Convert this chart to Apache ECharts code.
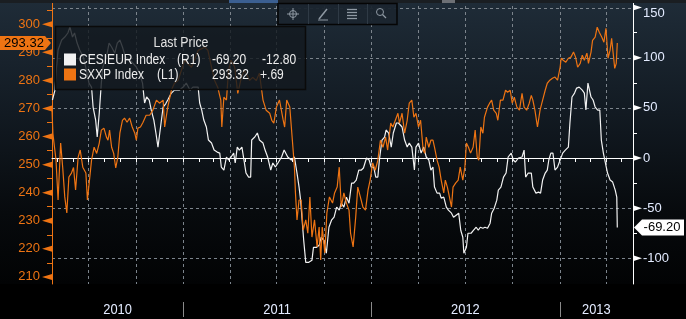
<!DOCTYPE html>
<html><head><meta charset="utf-8">
<script src="https://cdn.jsdelivr.net/npm/echarts@6/dist/echarts.min.js"></script>
<style>html,body{margin:0;padding:0;background:#000;overflow:hidden}#c{width:686px;height:319px}</style>
</head><body><div id="c"></div>
<script>
// ---------- data ----------
const sxxpDates = ['2010-04-21','2010-04-23','2010-04-29','2010-05-03','2010-05-08','2010-05-12','2010-05-16','2010-05-20','2010-05-24','2010-05-29','2010-06-02','2010-06-06','2010-06-11','2010-06-15','2010-06-20','2010-06-26','2010-06-29','2010-07-02','2010-07-07','2010-07-12','2010-07-17','2010-07-22','2010-07-26','2010-07-31','2010-08-05','2010-08-08','2010-08-11','2010-08-15','2010-08-19','2010-08-23','2010-08-27','2010-08-31','2010-09-05','2010-09-09','2010-09-14','2010-09-19','2010-09-24','2010-09-29','2010-10-02','2010-10-05','2010-10-10','2010-10-15','2010-10-21','2010-10-28','2010-11-03','2010-11-10','2010-11-16','2010-11-23','2010-11-26','2010-12-02','2010-12-09','2010-12-15','2010-12-22',
'2011-01-04','2011-01-17','2011-01-30','2011-02-12','2011-02-18','2011-02-25','2011-03-03','2011-03-09','2011-03-15','2011-03-17','2011-03-21','2011-03-26','2011-03-30','2011-04-04','2011-04-11','2011-04-17','2011-04-24','2011-04-30','2011-05-10','2011-05-16','2011-05-23','2011-05-29','2011-06-05','2011-06-11','2011-06-18','2011-06-22','2011-06-26','2011-07-01','2011-07-07','2011-07-14','2011-07-17','2011-07-21','2011-07-27','2011-08-01','2011-08-05','2011-08-07','2011-08-10','2011-08-14','2011-08-18','2011-08-22','2011-08-27','2011-08-31','2011-09-04','2011-09-08','2011-09-13','2011-09-18','2011-09-22','2011-09-25','2011-09-28','2011-10-03','2011-10-07','2011-10-12','2011-10-18','2011-10-22','2011-10-27','2011-10-31','2011-11-04','2011-11-09','2011-11-14','2011-11-19','2011-11-22','2011-11-27','2011-12-02','2011-12-06','2011-12-11','2011-12-16','2011-12-21','2011-12-26','2011-12-30',
'2012-01-04','2012-01-09','2012-01-14','2012-01-19','2012-01-24','2012-01-29','2012-02-02','2012-02-08','2012-02-12','2012-02-17','2012-02-22','2012-02-25','2012-03-01','2012-03-06','2012-03-11','2012-03-15','2012-03-20','2012-03-24','2012-03-28','2012-04-02','2012-04-06','2012-04-11','2012-04-14','2012-04-17','2012-04-22','2012-04-26','2012-04-30','2012-05-03','2012-05-08','2012-05-12','2012-05-16','2012-05-21','2012-05-24','2012-05-28','2012-06-01','2012-06-05','2012-06-08','2012-06-13','2012-06-18','2012-06-22','2012-06-27','2012-07-01','2012-07-04','2012-07-08','2012-07-12','2012-07-17','2012-07-21','2012-07-25','2012-07-28','2012-08-01','2012-08-05','2012-08-08','2012-08-14','2012-08-18','2012-08-22','2012-08-26','2012-08-31','2012-09-03','2012-09-08','2012-09-13','2012-09-18','2012-09-22','2012-09-27','2012-10-01','2012-10-05','2012-10-10','2012-10-15','2012-10-20','2012-10-24','2012-10-29','2012-11-03','2012-11-07','2012-11-10','2012-11-14','2012-11-19','2012-11-24','2012-11-29','2012-12-04','2012-12-08','2012-12-13','2012-12-18','2012-12-23','2012-12-28',
'2013-01-02','2013-01-04','2013-01-08','2013-01-13','2013-01-18','2013-01-23','2013-01-28','2013-02-01','2013-02-05','2013-02-10','2013-02-14','2013-02-18','2013-02-23','2013-02-26','2013-03-03','2013-03-06','2013-03-11','2013-03-15','2013-03-19','2013-03-24','2013-03-28','2013-04-01','2013-04-05','2013-04-09','2013-04-12','2013-04-15','2013-04-18','2013-04-21','2013-04-23'];
const sxxpValues = [270.5,261.0,251.6,237.4,257.7,249.0,238.5,232.8,245.6,247.0,249.0,241.0,252.7,255.2,249.1,247.0,237.4,236.7,251.6,256.2,254.0,257.7,262.3,263.0,259.8,258.7,262.3,256.2,254.0,248.8,252.7,261.2,265.8,266.6,265.1,266.6,263.4,261.2,258.7,263.0,263.4,265.1,267.6,267.6,269.4,273.0,271.9,273.0,263.4,270.5,276.5,279.0,280.0,
287.2,284.7,290.7,291.8,290.7,284.7,280.0,277.6,273.0,263.4,274.0,273.0,283.6,287.2,284.7,275.4,281.1,283.6,280.0,281.1,280.0,282.6,273.0,269.4,268.3,265.8,264.8,270.5,273.0,266.0,263.4,273.0,270.5,258.7,249.1,239.9,230.3,237.4,237.4,226.7,230.3,225.6,238.5,224.2,230.3,220.7,227.8,216.0,227.8,218.5,232.8,238.5,236.3,239.9,242.0,249.1,234.9,239.9,236.3,233.8,225.6,220.7,231.3,242.0,238.5,234.9,233.8,241.0,244.5,
250.6,248.0,251.6,258.7,256.2,259.8,255.2,264.8,263.4,265.8,268.3,264.8,268.3,261.2,265.8,271.9,273.0,266.9,268.3,263.4,265.8,255.2,254.1,259.8,256.2,258.7,258.7,256.2,251.6,249.1,244.5,239.9,244.5,242.0,238.5,234.9,242.0,243.4,244.5,249.1,244.5,249.1,257.7,256.2,254.1,256.2,262.3,252.7,251.6,263.4,261.2,266.9,270.5,271.9,273.0,269.4,268.3,265.8,273.0,273.0,276.5,275.8,276.5,271.9,274.0,270.5,269.4,275.4,270.5,269.4,271.9,274.7,273.0,269.4,263.4,269.4,273.0,276.5,279.0,280.1,280.8,281.2,280.1,
284.7,287.9,287.2,286.5,287.9,288.3,290.1,288.3,284.7,286.1,289.0,287.2,289.7,286.1,290.1,294.3,295.4,299.0,297.2,295.4,293.6,298.6,287.9,290.8,295.0,289.7,284.3,286.1,293.32];

const cesiDates = ['2010-04-22','2010-04-27','2010-04-30','2010-05-03','2010-05-10','2010-05-16','2010-05-22','2010-05-26','2010-05-31','2010-06-04','2010-06-09','2010-06-14','2010-06-21','2010-06-27','2010-07-02','2010-07-07','2010-07-10','2010-07-15','2010-07-18','2010-07-22','2010-07-26','2010-07-29','2010-08-05','2010-08-10','2010-08-15','2010-08-21','2010-08-26','2010-08-31','2010-09-05','2010-09-11','2010-09-19','2010-09-25','2010-10-02','2010-10-08','2010-10-14','2010-10-18','2010-10-22','2010-10-27','2010-10-31','2010-11-05','2010-11-09','2010-11-13','2010-11-18','2010-11-23','2010-11-28','2010-12-02','2010-12-09','2010-12-15','2010-12-25',
'2011-01-01','2011-01-07','2011-01-14','2011-01-20','2011-01-30','2011-02-02','2011-02-06','2011-02-10','2011-02-15','2011-02-19','2011-02-25','2011-03-02','2011-03-08','2011-03-13','2011-03-16','2011-03-21','2011-03-26','2011-03-30','2011-04-04','2011-04-09','2011-04-12','2011-04-16','2011-04-20','2011-04-25','2011-04-29','2011-05-03','2011-05-08','2011-05-12','2011-05-14','2011-05-20','2011-05-25','2011-05-29','2011-06-05','2011-06-09','2011-06-14','2011-06-20','2011-06-24','2011-06-29','2011-07-04','2011-07-11','2011-07-16','2011-07-19','2011-07-23','2011-07-30','2011-08-05','2011-08-10','2011-08-14','2011-08-17','2011-08-20','2011-08-23','2011-08-27','2011-09-02','2011-09-08','2011-09-11','2011-09-17','2011-09-22','2011-09-26','2011-10-01','2011-10-06','2011-10-11','2011-10-16','2011-10-21','2011-10-26','2011-10-31','2011-11-04','2011-11-09','2011-11-14','2011-11-19','2011-11-24','2011-11-28','2011-12-03','2011-12-08','2011-12-13','2011-12-17','2011-12-23','2011-12-28',
'2012-01-01','2012-01-06','2012-01-10','2012-01-14','2012-01-17','2012-01-22','2012-01-27','2012-01-30','2012-02-04','2012-02-09','2012-02-13','2012-02-19','2012-02-23','2012-03-01','2012-03-06','2012-03-11','2012-03-15','2012-03-20','2012-03-25','2012-03-28','2012-04-02','2012-04-07','2012-04-12','2012-04-17','2012-04-22','2012-04-26','2012-04-30','2012-05-03','2012-05-08','2012-05-13','2012-05-16','2012-05-21','2012-05-26','2012-05-30','2012-06-05','2012-06-09','2012-06-14','2012-06-19','2012-06-23','2012-06-27','2012-06-29','2012-07-04','2012-07-07','2012-07-13','2012-07-18','2012-07-23','2012-07-27','2012-07-31','2012-08-05','2012-08-09','2012-08-14','2012-08-19','2012-08-22','2012-08-27','2012-09-01','2012-09-04','2012-09-09','2012-09-14','2012-09-19','2012-09-23','2012-09-29','2012-10-03','2012-10-07','2012-10-13','2012-10-20','2012-10-24','2012-10-27','2012-11-01','2012-11-07','2012-11-10','2012-11-16','2012-11-21','2012-11-25','2012-11-29','2012-12-04','2012-12-08','2012-12-11','2012-12-15','2012-12-19','2012-12-23','2012-12-28',
'2013-01-02','2013-01-07','2013-01-12','2013-01-18','2013-01-21','2013-01-25','2013-01-30','2013-02-03','2013-02-08','2013-02-14','2013-02-18','2013-02-21','2013-02-25','2013-02-28','2013-03-03','2013-03-07','2013-03-11','2013-03-16','2013-03-20','2013-03-23','2013-03-27','2013-03-31','2013-04-04','2013-04-09','2013-04-14','2013-04-19','2013-04-22','2013-04-23'];
const cesiValues = [57.8,67.7,90.7,107.6,117.6,120.6,124.6,130.6,120.6,124.6,114.6,107.6,100.6,87.7,74.7,70.7,50.8,37.8,20.9,44.8,74.7,90.7,100.6,114.6,110.6,104.6,114.6,117.6,110.6,100.6,97.7,94.7,90.7,84.7,74.7,54.8,60.8,57.8,47.8,37.8,24.9,10.9,30.9,50.8,54.0,57.8,64.7,67.7,67.7,
70.7,74.7,67.7,70.7,70.7,54.8,47.8,37.8,30.9,17.9,14.9,7.9,5.9,4.9,-9,-12,1,-2,1,4.9,-5,10.9,7.9,10.9,-2,-15,-19,-19,17.9,20.9,24.9,17.9,14.9,7.9,1,-12,-5,-9,-5,1,7.9,7.9,1,-2,1,-15,-29,-42,-62,-82,-104,-104,-102,-89,-89,-87,-79,-82,-95,-69,-62,-59,-49,-52,-45,-49,-39,-45,-25,-25,-22,-12,-12,-10,0,-2,
-9,-9,-19,-19,-2,17.9,20.9,27.9,24.9,10.9,24.9,34.9,34.9,30.9,17.9,10.9,14.9,10.9,-12,10.9,14.9,4.9,10.9,1,-2,-12,-9,-29,-35,-35,-40,-39,-49,-52,-55,-59,-57,-55,-72,-79,-95,-89,-75,-75,-72,-69,-72,-69,-70,-69,-70,-65,-55,-50,-42,-32,-29,-19,-15,1,4.9,-2,-4,0,1,7.9,-19,-15,-15,-29,-35,-34,-35,-22,-15,-12,-2,4.9,4.9,-12,-9,
-2,4.9,7.9,10.9,34.9,60.8,64.7,69.7,70.7,67.7,64.7,47.8,74.7,75.7,60.8,57.8,50.8,47.8,47.8,17.9,4.9,-5,-15,-22,-24,-32,-39,-69.2];

const leftTicks = [210,220,230,240,250,260,270,280,290,300];
const leftMinorTicks = [215,225,235,245,255,265,275,285,295,305];
const rightTicks = [-100,-50,0,50,100,150];
const rightMinorTicks = [-75,-25,25,75,125];
const yearLabels = ['2010','2011','2012','2013'];
const legendTitle = 'Last Price';
const legendRows = [
  ['CESIEUR Index','(R1)','-69.20','-12.80'],
  ['SXXP Index','(L1)','293.32','+.69']
];
const lastSxxp = 293.32, lastCesi = -69.20;

// ---------- styling ----------
const ORANGE = '#ee7413';
const WHITE = '#f2f2f2';
const LIGHT = '#e3ebff';
const GRIDC = '#7c848c';
const FONT = "'Liberation Sans',Arial,sans-serif";

const xMin = new Date(2010,3,21,5).getTime();
const xMax = new Date(2013,4,23,12).getTime();
const monthTicks = [], quarterTicks = [];
for (let y = 2010; y <= 2013; y++) for (let m = 0; m < 12; m++) {
  const t = new Date(y, m, 1).getTime();
  if (t > xMin && t < xMax) { monthTicks.push(t); if (m % 3 === 0) quarterTicks.push(t); }
}
const toT = s => { const p = s.split('-'); return new Date(+p[0], +p[1]-1, +p[2]).getTime(); };
const sxxpData = sxxpDates.map((d,i) => [toT(d), sxxpValues[i]]);
const cesiData = cesiDates.map((d,i) => [toT(d), cesiValues[i]]);

const chart = echarts.init(document.getElementById('c'));
const option = {
  animation: false,
  backgroundColor: '#000',
  grid: { left: 52, right: 53, top: 0, bottom: 35, containLabel: false },
  xAxis: [{
    type: 'time', min: xMin, max: xMax,
    axisLine: { show: true, lineStyle: { color: '#ffffff', width: 1 } },
    axisTick: { show: true, customValues: monthTicks, length: 4, lineStyle: { color: '#ffffff' } },
    axisLabel: { show: false }, splitLine: { show: false }
  }],
  yAxis: [{
    type: 'value', position: 'left', min: 207.47, max: 308.66,
    axisLine: { show: true, lineStyle: { color: ORANGE, width: 1 } },
    axisTick: { show: true, customValues: leftMinorTicks, length: 5, lineStyle: { color: ORANGE } },
    axisLabel: { customValues: leftTicks, color: ORANGE, margin: 12, fontSize: 13, fontFamily: FONT },
    splitLine: { show: false }
  }, {
    type: 'value', position: 'right', min: -125.6, max: 157.5,
    axisLine: { show: true, lineStyle: { color: '#ffffff', width: 1 } },
    axisTick: { show: true, customValues: rightMinorTicks, length: 4, lineStyle: { color: '#ffffff' } },
    axisLabel: { customValues: rightTicks, color: LIGHT, margin: 10, fontSize: 13, fontFamily: FONT,
      formatter: v => v === 150 ? '{d|150}' : String(v),
      rich: { d: { color: LIGHT, fontSize: 13, fontFamily: FONT, padding: [11,0,0,0] } } },
    splitLine: { show: false }
  }],
  series: [{
    name: 'CESIEUR Index', type: 'line', yAxisIndex: 1, data: cesiData,
    showSymbol: false, symbol: 'none', z: 3,
    lineStyle: { color: WHITE, width: 1.2 }
  }, {
    name: 'SXXP Index', type: 'line', yAxisIndex: 0, data: sxxpData,
    showSymbol: false, symbol: 'none', z: 4,
    lineStyle: { color: ORANGE, width: 1.2 }
  }]
};
chart.setOption(option);

// ---------- decorations placed through the chart's own scales ----------
const px = t => chart.convertToPixel({ xAxisIndex: 0 }, t);
const pyL = v => chart.convertToPixel({ yAxisIndex: 0 }, v);
const pyR = v => chart.convertToPixel({ yAxisIndex: 1 }, v);
const xL = px(xMin), xR = px(xMax), yB = pyR(-125.6), yT = pyR(157.5);

const g = [];
g.push({ type: 'rect', z: -20, silent: true, shape: { x: 0, y: 0, width: 686, height: yB },
  style: { fill: new echarts.graphic.LinearGradient(0,0,0,1,[
    {offset:0,color:'#1f2c38'},{offset:0.4,color:'#121a22'},{offset:0.75,color:'#070a0d'},{offset:1,color:'#020304'}]) } });
// grid lines
rightTicks.forEach(v => { const y = Math.round(pyR(v)) + 0.5;
  g.push({ type: 'line', z: -10, silent: true, shape: { x1: xL, y1: y, x2: xR, y2: y },
    style: { stroke: GRIDC, lineWidth: 1, lineDash: [3,3] } }); });
quarterTicks.forEach(t => { const x = Math.round(px(t)) + 0.5;
  g.push({ type: 'line', z: -10, silent: true, shape: { x1: x, y1: yT, x2: x, y2: yB },
    style: { stroke: GRIDC, lineWidth: 1, lineDash: [3,3] } }); });
// axis flags
leftTicks.forEach(v => { const y = pyL(v);
  g.push({ type: 'polygon', z: 20, silent: true, shape: { points: [[xL,y-3],[xL,y+3],[xL-10,y]] }, style: { fill: ORANGE } }); });
rightTicks.forEach(v => { const y = pyR(v);
  g.push({ type: 'polygon', z: 20, silent: true, shape: { points: [[xR,y-3],[xR,y+3],[xR+9,y]] }, style: { fill: '#ffffff' } }); });
// year labels and separators
const yearStarts = yearLabels.map(s => new Date(+s,0,1).getTime());
yearLabels.forEach((s,i) => {
  const a = Math.max(xMin, yearStarts[i]);
  const b = Math.min(xMax, new Date(+s+1,0,1).getTime());
  const cx = (px(a) + px(b)) / 2;
  g.push({ type: 'text', z: 20, silent: true, x: cx, y: 310, scaleX: 0.92,
    style: { text: s, x: 0, y: 0, fill: LIGHT, font: '14px ' + FONT, align: 'center', verticalAlign: 'middle' } });
  if (yearStarts[i] > xMin) { const x = Math.round(px(yearStarts[i])) + 0.5;
    g.push({ type: 'line', z: 20, silent: true, shape: { x1: x, y1: 302, x2: x, y2: 317 }, style: { stroke: '#8a8a8a', lineWidth: 1 } }); }
});
// last-value boxes
{ const y = pyL(lastSxxp);
  g.push({ type: 'polygon', z: 30, silent: true, shape: { points: [[0,y-7],[45,y-7],[xL-1,y],[45,y+7],[0,y+7]] }, style: { fill: ORANGE } });
  g.push({ type: 'text', z: 31, silent: true, style: { text: lastSxxp.toFixed(2), x: 24, y: y, fill: '#000', font: '13px ' + FONT, align: 'center', verticalAlign: 'middle' } }); }
{ const y = pyR(lastCesi);
  g.push({ type: 'polygon', z: 30, silent: true, shape: { points: [[xR+1,y],[xR+9,y-8],[684,y-8],[684,y+8],[xR+9,y+8]] }, style: { fill: '#ffffff' } });
  g.push({ type: 'text', z: 31, silent: true, style: { text: lastCesi.toFixed(2), x: 662, y: y, fill: '#000', font: '13px ' + FONT, align: 'center', verticalAlign: 'middle' } }); }
// top strip and tool box
g.push({ type: 'rect', z: 30, silent: true, shape: { x: 0, y: 0, width: 686, height: 3 }, style: { fill: '#1a1e22' } });
g.push({ type: 'rect', z: 31, silent: true, shape: { x: 229, y: 0, width: 49, height: 3 }, style: { fill: '#3b5f91' } });
g.push({ type: 'rect', z: 31, silent: true, shape: { x: 442, y: 0, width: 13, height: 3 }, style: { fill: '#6d7075' } });
g.push({ type: 'rect', z: 30, silent: true, shape: { x: 278, y: 3.5, width: 119, height: 21 }, style: { fill: 'rgba(27,37,47,0.95)', stroke: '#050505', lineWidth: 1.5 } });
[308, 338, 367].forEach(x => g.push({ type: 'line', z: 31, silent: true, shape: { x1: x+0.5, y1: 4, x2: x+0.5, y2: 24 }, style: { stroke: '#2f3a45', lineWidth: 1 } }));
const IC = '#8f99a3';
g.push({ type: 'circle', z: 32, silent: true, shape: { cx: 293, cy: 14, r: 3.5 }, style: { fill: 'none', stroke: IC, lineWidth: 1 } });
g.push({ type: 'line', z: 32, silent: true, shape: { x1: 287, y1: 14, x2: 299, y2: 14 }, style: { stroke: IC, lineWidth: 1 } });
g.push({ type: 'line', z: 32, silent: true, shape: { x1: 293, y1: 8, x2: 293, y2: 20 }, style: { stroke: IC, lineWidth: 1 } });
g.push({ type: 'line', z: 32, silent: true, shape: { x1: 319, y1: 19, x2: 327, y2: 9 }, style: { stroke: IC, lineWidth: 1.5 } });
g.push({ type: 'line', z: 32, silent: true, shape: { x1: 318, y1: 20, x2: 328, y2: 20 }, style: { stroke: IC, lineWidth: 1 } });
[9,12,15,18].forEach(y => g.push({ type: 'line', z: 32, silent: true, shape: { x1: 347, y1: y+0.5, x2: 357, y2: y+0.5 }, style: { stroke: IC, lineWidth: 1.3 } }));
g.push({ type: 'circle', z: 32, silent: true, shape: { cx: 380, cy: 12, r: 3.5 }, style: { fill: 'none', stroke: IC, lineWidth: 1 } });
g.push({ type: 'line', z: 32, silent: true, shape: { x1: 382.5, y1: 14.5, x2: 386, y2: 18 }, style: { stroke: IC, lineWidth: 1.3 } });
// legend box
g.push({ type: 'rect', z: 40, silent: true, shape: { x: 55.5, y: 26.5, width: 250, height: 63 }, style: { fill: 'rgba(20,26,32,0.82)', stroke: '#0a0a0a', lineWidth: 1.5 } });
g.push({ type: 'text', z: 41, silent: true, x: 181, y: 43, scaleX: 0.88,
  style: { text: legendTitle, x: 0, y: 0, fill: '#e4e4e4', font: '14px ' + FONT, align: 'center', verticalAlign: 'middle' } });
const legendColors = [WHITE, ORANGE];
legendRows.forEach((row, i) => {
  const y = 60 + i * 15;
  g.push({ type: 'rect', z: 41, silent: true, shape: { x: 64, y: y - 6.5, width: 12, height: 12 }, style: { fill: legendColors[i] } });
  const xs = [79, i === 0 ? 177 : 157, 212, i === 0 ? 262 : 260];
  row.forEach((txt, j) => g.push({ type: 'text', z: 41, silent: true, x: xs[j], y: y, scaleX: 0.86,
    style: { text: txt, x: 0, y: 0, fill: '#ececec', font: '14px ' + FONT, align: 'left', verticalAlign: 'middle' } }));
});
chart.setOption({ graphic: { elements: g } });
</script></body></html>
